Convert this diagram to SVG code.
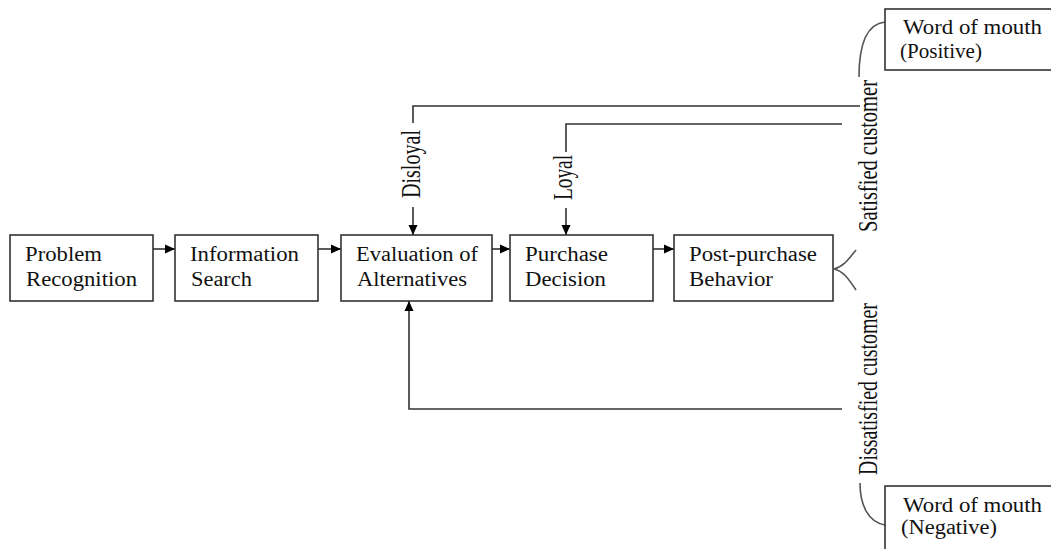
<svg xmlns="http://www.w3.org/2000/svg" width="1051" height="549" viewBox="0 0 1051 549">
<style>
.box{fill:#fff;stroke:#333;stroke-width:1.6}
.t{font-family:"Liberation Serif","Times New Roman",serif;font-size:20px;fill:#111}
.v{font-family:"Liberation Serif","Times New Roman",serif;font-size:27px;fill:#111}
.ln{fill:none;stroke:#333;stroke-width:1.6}
.cv{fill:none;stroke:#555;stroke-width:1.6}
</style>
<defs>
<marker id="ah" markerUnits="userSpaceOnUse" markerWidth="10" markerHeight="10" refX="10" refY="5" orient="auto">
<path d="M0,0.5 L10,5 L0,9.5 z" fill="#000"/>
</marker>
</defs>
<rect width="1051" height="549" fill="#fff"/>
<g id="connectors">
<line class="ln" x1="153" y1="249" x2="175" y2="249" marker-end="url(#ah)"/>
<line class="ln" x1="318" y1="249" x2="341" y2="249" marker-end="url(#ah)"/>
<line class="ln" x1="492" y1="249" x2="510" y2="249" marker-end="url(#ah)"/>
<line class="ln" x1="653" y1="249" x2="674" y2="249" marker-end="url(#ah)"/>
<polyline class="ln" points="860,106 413,106 413,123"/>
<line class="ln" x1="413" y1="207" x2="413" y2="235" marker-end="url(#ah)"/>
<polyline class="ln" points="842,124 566,124 566,152"/>
<line class="ln" x1="566" y1="208" x2="566" y2="235" marker-end="url(#ah)"/>
<polyline class="ln" points="842,409 409,409 409,301" marker-end="url(#ah)"/>
<path class="cv" d="M856,250 C848,260 843,267 834,269 C843,271 848,278 856,290"/>
<path class="cv" d="M885,22 C866,24 859,45 859,77"/>
<path class="cv" d="M860,483 C860,505 868,522 885,525"/>
<text class="v" transform="translate(420,198) rotate(-90)" textLength="68" lengthAdjust="spacingAndGlyphs">Disloyal</text>
<text class="v" transform="translate(572,200) rotate(-90)" textLength="45" lengthAdjust="spacingAndGlyphs">Loyal</text>
<text class="v" transform="translate(877,232) rotate(-90)" textLength="152" lengthAdjust="spacingAndGlyphs">Satisfied customer</text>
<text class="v" transform="translate(877,475) rotate(-90)" textLength="172" lengthAdjust="spacingAndGlyphs">Dissatisfied customer</text>
</g>
<g id="problem-recognition">
<rect class="box" x="10" y="235" width="143" height="66"/>
<text class="t" x="25" y="261" textLength="77" lengthAdjust="spacingAndGlyphs">Problem</text>
<text class="t" x="26" y="286" textLength="111" lengthAdjust="spacingAndGlyphs">Recognition</text>
</g>
<g id="information-search">
<rect class="box" x="175" y="235" width="143" height="66"/>
<text class="t" x="190" y="261" textLength="109" lengthAdjust="spacingAndGlyphs">Information</text>
<text class="t" x="191" y="286" textLength="61" lengthAdjust="spacingAndGlyphs">Search</text>
</g>
<g id="evaluation">
<rect class="box" x="341" y="235" width="151" height="66"/>
<text class="t" x="356" y="261" textLength="122" lengthAdjust="spacingAndGlyphs">Evaluation of</text>
<text class="t" x="357" y="286" textLength="110" lengthAdjust="spacingAndGlyphs">Alternatives</text>
</g>
<g id="purchase-decision">
<rect class="box" x="510" y="235" width="143" height="66"/>
<text class="t" x="525" y="261" textLength="83" lengthAdjust="spacingAndGlyphs">Purchase</text>
<text class="t" x="525" y="286" textLength="81" lengthAdjust="spacingAndGlyphs">Decision</text>
</g>
<g id="post-purchase">
<rect class="box" x="674" y="235" width="159" height="66"/>
<text class="t" x="689" y="261" textLength="128" lengthAdjust="spacingAndGlyphs">Post-purchase</text>
<text class="t" x="689" y="286" textLength="84" lengthAdjust="spacingAndGlyphs">Behavior</text>
</g>
<g id="wom-positive">
<rect class="box" x="885" y="9" width="180" height="61"/>
<text class="t" x="903" y="34" textLength="139" lengthAdjust="spacingAndGlyphs">Word of mouth</text>
<text class="t" x="900" y="58" textLength="82" lengthAdjust="spacingAndGlyphs">(Positive)</text>
</g>
<g id="wom-negative">
<rect class="box" x="885" y="486" width="180" height="80"/>
<text class="t" x="903" y="512" textLength="139" lengthAdjust="spacingAndGlyphs">Word of mouth</text>
<text class="t" x="901" y="534" textLength="96" lengthAdjust="spacingAndGlyphs">(Negative)</text>
</g>
</svg>
